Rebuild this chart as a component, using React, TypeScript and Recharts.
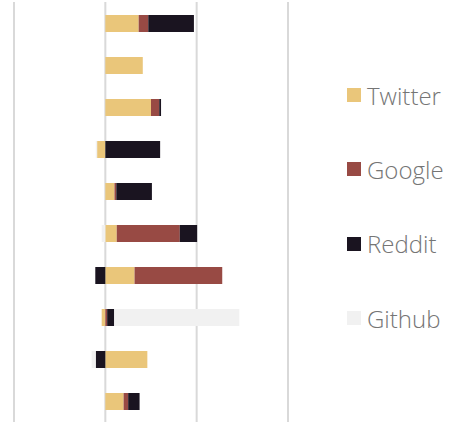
import { BarChart, Bar, XAxis, YAxis, CartesianGrid } from "recharts";

const categories = ["1", "2", "3", "4", "5", "6", "7", "8", "9", "10"];
const twitter = [0.365, 0.41, 0.5, -0.09, 0.1, 0.125, 0.32, -0.04, 0.46, 0.2];
const google = [0.105, 0, 0.09, 0, 0.02, 0.69, 0.96, 0.02, 0, 0.05];
const reddit = [0.5, 0, 0.02, 0.6, 0.39, 0.19, -0.11, 0.077, -0.105, 0.125];
const github = [0, 0, 0, -0.015, 0, -0.04, 0, 1.37, -0.045, 0];
const xTicks = [-1, 0, 1, 2];

const series = [
  { key: "Twitter", color: "#EAC67A" },
  { key: "Google", color: "#984A44" },
  { key: "Reddit", color: "#1A1420" },
  { key: "Github", color: "#F1F1F1" },
];

const data = categories.map((c, i) => ({
  name: c,
  Twitter: twitter[i],
  Google: google[i],
  Reddit: reddit[i],
  Github: github[i],
}));

function SideLegend() {
  return (
    <div style={{ position: "absolute", left: 347, top: 58, width: 112, fontFamily: "'Open Sans', sans-serif", fontWeight: 300 }}>
      {series.map((s) => (
        <div key={s.key} style={{ display: "flex", alignItems: "center", height: 74.3 }}>
          <span style={{ width: 14, height: 14, background: s.color, marginRight: 6, display: "inline-block" }} />
          <span style={{ fontSize: 24, color: "#757575" }}>{s.key}</span>
        </div>
      ))}
    </div>
  );
}

export default function App() {
  return (
    <div style={{ position: "absolute", left: 0, top: 0, width: 459, height: 425, background: "#fff" }}>
      <BarChart
        width={459}
        height={425}
        data={data}
        layout="vertical"
        stackOffset="sign"
        margin={{ top: 2, right: 171, bottom: 3, left: 14 }}
      >
        <CartesianGrid horizontal={false} stroke="#D9D9D9" strokeWidth={2} />
        <XAxis type="number" domain={[-1, 2]} ticks={xTicks} hide />
        <YAxis type="category" dataKey="name" hide />
        {series.map((s) => (
          <Bar key={s.key} dataKey={s.key} stackId="a" fill={s.color} barSize={17} isAnimationActive={false} />
        ))}
      </BarChart>
      <SideLegend />
    </div>
  );
}
